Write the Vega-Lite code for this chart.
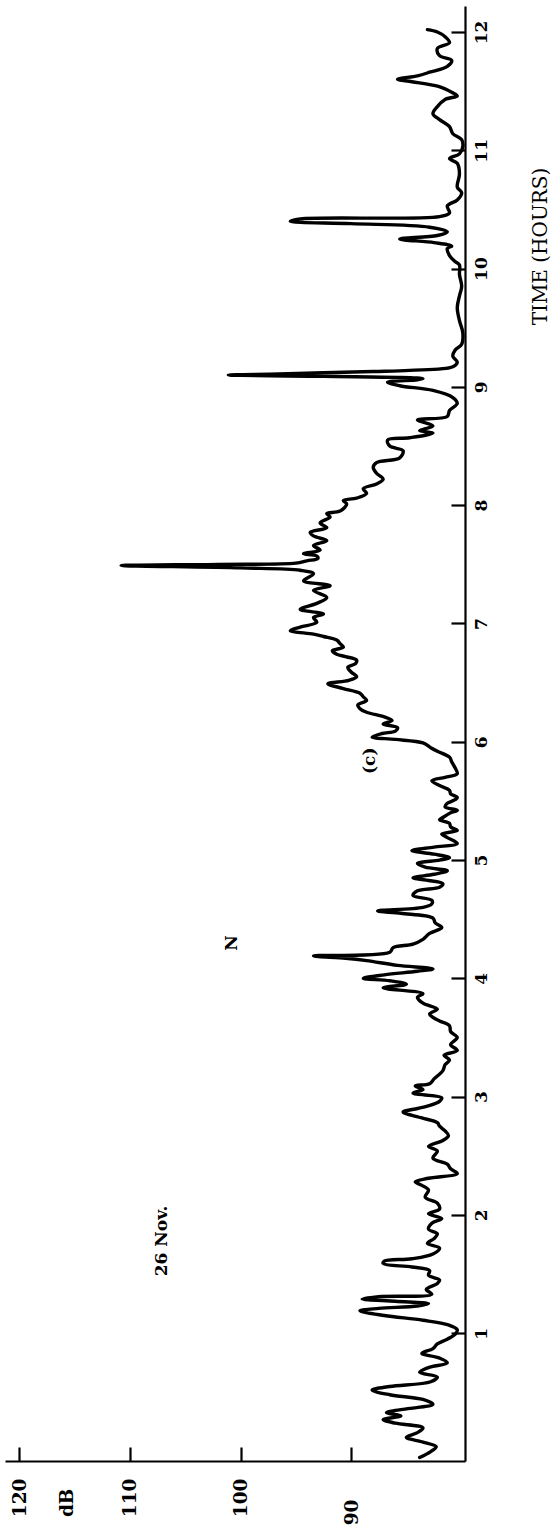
{
  "$schema": "https://vega.github.io/schema/vega-lite/v6.json",
  "width": 460,
  "height": 1455,
  "autosize": "none",
  "padding": {"left": 5, "top": 6, "right": 88, "bottom": 66},
  "background": "white",
  "config": {"view": {"stroke": null}},
  "datasets": {
    "trace": [
      {"t": -0.05, "db": 83.8}, {"t": 0.0, "db": 82.8}, {"t": 0.04, "db": 82.3}, {"t": 0.08, "db": 83.5},
      {"t": 0.12, "db": 85.0}, {"t": 0.16, "db": 84.0}, {"t": 0.2, "db": 83.5}, {"t": 0.24, "db": 86.0},
      {"t": 0.27, "db": 87.1}, {"t": 0.3, "db": 85.5}, {"t": 0.33, "db": 86.8}, {"t": 0.36, "db": 85.0},
      {"t": 0.4, "db": 82.6}, {"t": 0.44, "db": 83.5}, {"t": 0.48, "db": 86.5}, {"t": 0.52, "db": 88.1},
      {"t": 0.55, "db": 86.5}, {"t": 0.59, "db": 82.8}, {"t": 0.63, "db": 82.2}, {"t": 0.67, "db": 83.8},
      {"t": 0.71, "db": 83.0}, {"t": 0.75, "db": 81.3}, {"t": 0.79, "db": 82.0}, {"t": 0.83, "db": 83.6},
      {"t": 0.87, "db": 82.6}, {"t": 0.91, "db": 82.2}, {"t": 0.95, "db": 81.3}, {"t": 0.99, "db": 80.6},
      {"t": 1.03, "db": 80.4}, {"t": 1.07, "db": 81.2}, {"t": 1.11, "db": 83.5}, {"t": 1.15, "db": 87.0},
      {"t": 1.19, "db": 89.2}, {"t": 1.21, "db": 87.5}, {"t": 1.23, "db": 84.0}, {"t": 1.25, "db": 83.0},
      {"t": 1.27, "db": 86.0}, {"t": 1.29, "db": 89.0}, {"t": 1.31, "db": 87.5}, {"t": 1.33, "db": 82.7},
      {"t": 1.37, "db": 83.2}, {"t": 1.42, "db": 82.2}, {"t": 1.45, "db": 82.0}, {"t": 1.49, "db": 83.0},
      {"t": 1.53, "db": 82.9}, {"t": 1.56, "db": 84.5}, {"t": 1.59, "db": 87.1}, {"t": 1.61, "db": 87.0},
      {"t": 1.63, "db": 84.5}, {"t": 1.67, "db": 82.6}, {"t": 1.72, "db": 82.0}, {"t": 1.76, "db": 83.1},
      {"t": 1.8, "db": 82.5}, {"t": 1.84, "db": 82.2}, {"t": 1.88, "db": 83.0}, {"t": 1.93, "db": 82.7},
      {"t": 1.97, "db": 81.8}, {"t": 2.01, "db": 83.0}, {"t": 2.05, "db": 82.0}, {"t": 2.1, "db": 82.2},
      {"t": 2.15, "db": 83.3}, {"t": 2.21, "db": 83.0}, {"t": 2.25, "db": 83.6}, {"t": 2.28, "db": 84.2},
      {"t": 2.31, "db": 83.0}, {"t": 2.35, "db": 80.4}, {"t": 2.39, "db": 81.0}, {"t": 2.43, "db": 81.3},
      {"t": 2.48, "db": 82.6}, {"t": 2.54, "db": 82.2}, {"t": 2.58, "db": 83.0}, {"t": 2.63, "db": 81.7},
      {"t": 2.67, "db": 81.2}, {"t": 2.71, "db": 81.5}, {"t": 2.75, "db": 82.0}, {"t": 2.78, "db": 82.2},
      {"t": 2.82, "db": 83.6}, {"t": 2.87, "db": 85.3}, {"t": 2.9, "db": 84.0}, {"t": 2.92, "db": 83.1},
      {"t": 2.96, "db": 82.0}, {"t": 2.99, "db": 81.8}, {"t": 3.03, "db": 84.4}, {"t": 3.06, "db": 83.5},
      {"t": 3.09, "db": 84.2}, {"t": 3.11, "db": 82.9}, {"t": 3.15, "db": 82.5}, {"t": 3.22, "db": 81.7},
      {"t": 3.27, "db": 81.5}, {"t": 3.31, "db": 81.1}, {"t": 3.35, "db": 81.6}, {"t": 3.39, "db": 80.4},
      {"t": 3.44, "db": 81.0}, {"t": 3.5, "db": 80.4}, {"t": 3.55, "db": 81.0}, {"t": 3.6, "db": 81.1},
      {"t": 3.64, "db": 82.0}, {"t": 3.67, "db": 82.6}, {"t": 3.7, "db": 82.9}, {"t": 3.74, "db": 82.2},
      {"t": 3.79, "db": 83.5}, {"t": 3.84, "db": 84.0}, {"t": 3.87, "db": 83.5}, {"t": 3.92, "db": 87.1},
      {"t": 3.95, "db": 85.0}, {"t": 3.98, "db": 86.5}, {"t": 4.0, "db": 88.9}, {"t": 4.03, "db": 87.0},
      {"t": 4.06, "db": 84.0}, {"t": 4.08, "db": 82.6}, {"t": 4.11, "db": 85.8}, {"t": 4.15, "db": 88.6},
      {"t": 4.17, "db": 90.5}, {"t": 4.19, "db": 93.4}, {"t": 4.22, "db": 86.5}, {"t": 4.26, "db": 86.2},
      {"t": 4.29, "db": 84.4}, {"t": 4.33, "db": 83.5}, {"t": 4.38, "db": 82.9}, {"t": 4.43, "db": 81.8},
      {"t": 4.47, "db": 82.4}, {"t": 4.51, "db": 82.6}, {"t": 4.55, "db": 85.5}, {"t": 4.57, "db": 87.6},
      {"t": 4.6, "db": 83.5}, {"t": 4.63, "db": 82.7}, {"t": 4.66, "db": 82.7}, {"t": 4.7, "db": 84.4},
      {"t": 4.74, "db": 84.0}, {"t": 4.77, "db": 82.0}, {"t": 4.8, "db": 81.7}, {"t": 4.83, "db": 83.2},
      {"t": 4.85, "db": 84.4}, {"t": 4.88, "db": 82.5}, {"t": 4.91, "db": 81.3}, {"t": 4.94, "db": 83.3},
      {"t": 4.97, "db": 84.0}, {"t": 5.0, "db": 82.0}, {"t": 5.02, "db": 81.1}, {"t": 5.05, "db": 82.5},
      {"t": 5.08, "db": 84.5}, {"t": 5.11, "db": 82.5}, {"t": 5.14, "db": 80.4}, {"t": 5.19, "db": 81.3},
      {"t": 5.22, "db": 81.8}, {"t": 5.25, "db": 80.4}, {"t": 5.28, "db": 81.0}, {"t": 5.31, "db": 81.1},
      {"t": 5.34, "db": 82.0}, {"t": 5.36, "db": 81.7}, {"t": 5.4, "db": 81.0}, {"t": 5.42, "db": 80.4},
      {"t": 5.45, "db": 81.5}, {"t": 5.48, "db": 81.3}, {"t": 5.51, "db": 80.6}, {"t": 5.53, "db": 80.4},
      {"t": 5.56, "db": 81.0}, {"t": 5.59, "db": 81.1}, {"t": 5.63, "db": 82.0}, {"t": 5.67, "db": 82.7},
      {"t": 5.7, "db": 81.5}, {"t": 5.73, "db": 80.4}, {"t": 5.78, "db": 80.6}, {"t": 5.83, "db": 80.9},
      {"t": 5.87, "db": 81.1}, {"t": 5.92, "db": 82.2}, {"t": 5.95, "db": 82.8}, {"t": 5.99, "db": 83.5},
      {"t": 6.02, "db": 86.0}, {"t": 6.04, "db": 88.1}, {"t": 6.07, "db": 87.2}, {"t": 6.09, "db": 86.0},
      {"t": 6.12, "db": 85.8}, {"t": 6.15, "db": 87.1}, {"t": 6.18, "db": 86.3}, {"t": 6.21, "db": 87.0},
      {"t": 6.25, "db": 88.6}, {"t": 6.28, "db": 89.2}, {"t": 6.31, "db": 89.4}, {"t": 6.35, "db": 88.6},
      {"t": 6.38, "db": 88.9}, {"t": 6.41, "db": 89.2}, {"t": 6.45, "db": 90.7}, {"t": 6.49, "db": 92.1},
      {"t": 6.52, "db": 90.2}, {"t": 6.55, "db": 89.5}, {"t": 6.59, "db": 90.0}, {"t": 6.63, "db": 90.3},
      {"t": 6.66, "db": 89.6}, {"t": 6.69, "db": 89.5}, {"t": 6.72, "db": 90.5}, {"t": 6.74, "db": 91.3},
      {"t": 6.77, "db": 91.7}, {"t": 6.8, "db": 90.7}, {"t": 6.83, "db": 91.0}, {"t": 6.86, "db": 91.3},
      {"t": 6.89, "db": 92.5}, {"t": 6.91, "db": 93.4}, {"t": 6.94, "db": 95.5}, {"t": 6.97, "db": 94.6},
      {"t": 7.01, "db": 93.1}, {"t": 7.05, "db": 93.4}, {"t": 7.08, "db": 92.5}, {"t": 7.12, "db": 94.6},
      {"t": 7.17, "db": 93.1}, {"t": 7.22, "db": 92.2}, {"t": 7.28, "db": 93.4}, {"t": 7.32, "db": 91.9},
      {"t": 7.36, "db": 94.3}, {"t": 7.42, "db": 93.4}, {"t": 7.45, "db": 94.6}, {"t": 7.47, "db": 100.0},
      {"t": 7.49, "db": 110.8}, {"t": 7.5, "db": 102.0}, {"t": 7.51, "db": 95.0}, {"t": 7.53, "db": 94.0},
      {"t": 7.55, "db": 93.0}, {"t": 7.57, "db": 93.1}, {"t": 7.59, "db": 94.3}, {"t": 7.62, "db": 92.8},
      {"t": 7.66, "db": 93.4}, {"t": 7.7, "db": 92.2}, {"t": 7.74, "db": 93.4}, {"t": 7.77, "db": 93.7},
      {"t": 7.81, "db": 92.2}, {"t": 7.85, "db": 92.8}, {"t": 7.9, "db": 91.9}, {"t": 7.93, "db": 92.2},
      {"t": 7.95, "db": 91.0}, {"t": 8.01, "db": 90.4}, {"t": 8.04, "db": 90.7}, {"t": 8.06, "db": 89.5},
      {"t": 8.1, "db": 88.6}, {"t": 8.14, "db": 88.9}, {"t": 8.18, "db": 87.7}, {"t": 8.22, "db": 87.1},
      {"t": 8.27, "db": 87.7}, {"t": 8.32, "db": 88.0}, {"t": 8.36, "db": 87.7}, {"t": 8.4, "db": 85.6},
      {"t": 8.46, "db": 85.3}, {"t": 8.5, "db": 86.5}, {"t": 8.55, "db": 86.7}, {"t": 8.57, "db": 84.7},
      {"t": 8.61, "db": 82.6}, {"t": 8.63, "db": 83.8}, {"t": 8.67, "db": 82.6}, {"t": 8.72, "db": 84.0},
      {"t": 8.75, "db": 81.3}, {"t": 8.8, "db": 81.1}, {"t": 8.86, "db": 80.4}, {"t": 8.91, "db": 80.8},
      {"t": 8.97, "db": 82.6}, {"t": 9.01, "db": 85.6}, {"t": 9.04, "db": 86.7}, {"t": 9.06, "db": 84.0},
      {"t": 9.07, "db": 83.5}, {"t": 9.09, "db": 92.5}, {"t": 9.1, "db": 101.1}, {"t": 9.11, "db": 96.5},
      {"t": 9.13, "db": 88.0}, {"t": 9.14, "db": 84.7}, {"t": 9.17, "db": 80.8}, {"t": 9.21, "db": 80.4},
      {"t": 9.26, "db": 80.8}, {"t": 9.31, "db": 80.6}, {"t": 9.36, "db": 80.0}, {"t": 9.46, "db": 79.9},
      {"t": 9.56, "db": 80.2}, {"t": 9.67, "db": 80.4}, {"t": 9.77, "db": 80.2}, {"t": 9.85, "db": 80.0},
      {"t": 9.95, "db": 80.2}, {"t": 10.03, "db": 80.2}, {"t": 10.06, "db": 80.6}, {"t": 10.11, "db": 81.1},
      {"t": 10.17, "db": 81.3}, {"t": 10.19, "db": 80.9}, {"t": 10.22, "db": 82.5}, {"t": 10.25, "db": 85.6},
      {"t": 10.28, "db": 82.2}, {"t": 10.31, "db": 81.3}, {"t": 10.35, "db": 82.9}, {"t": 10.38, "db": 90.0},
      {"t": 10.4, "db": 95.5}, {"t": 10.42, "db": 94.6}, {"t": 10.44, "db": 82.0}, {"t": 10.47, "db": 81.1},
      {"t": 10.53, "db": 81.3}, {"t": 10.58, "db": 80.4}, {"t": 10.64, "db": 80.0}, {"t": 10.69, "db": 80.4},
      {"t": 10.8, "db": 80.2}, {"t": 10.89, "db": 80.4}, {"t": 10.93, "db": 81.1}, {"t": 10.97, "db": 80.2},
      {"t": 11.03, "db": 79.9}, {"t": 11.09, "db": 80.0}, {"t": 11.14, "db": 80.8}, {"t": 11.2, "db": 81.1},
      {"t": 11.26, "db": 82.0}, {"t": 11.31, "db": 82.6}, {"t": 11.37, "db": 82.2}, {"t": 11.43, "db": 81.5},
      {"t": 11.46, "db": 80.4}, {"t": 11.49, "db": 80.9}, {"t": 11.54, "db": 82.1}, {"t": 11.58, "db": 84.5},
      {"t": 11.6, "db": 85.8}, {"t": 11.63, "db": 84.0}, {"t": 11.66, "db": 82.9}, {"t": 11.71, "db": 81.3},
      {"t": 11.76, "db": 80.9}, {"t": 11.8, "db": 82.0}, {"t": 11.86, "db": 82.2}, {"t": 11.91, "db": 81.1},
      {"t": 11.96, "db": 81.5}, {"t": 12.0, "db": 82.2}, {"t": 12.02, "db": 83.1}
    ],
    "notes": [
      {"label": "26 Nov.", "t": 1.78, "db": 107.1},
      {"label": "N", "t": 4.3, "db": 100.8},
      {"label": "(c)", "t": 5.84, "db": 88.3}
    ]
  },
  "layer": [
    {
      "data": {"name": "trace"},
      "mark": {"type": "line", "color": "black", "strokeWidth": 3.4, "interpolate": "catmull-rom", "strokeJoin": "round", "strokeCap": "round"},
      "encoding": {
        "x": {
          "field": "db", "type": "quantitative",
          "scale": {"domain": [79.7, 121.3], "reverse": true, "nice": false, "zero": false},
          "axis": {
            "orient": "bottom", "values": [90, 100, 110, 120], "grid": false, "format": "d",
            "domainColor": "black", "domainWidth": 2.2, "tickColor": "black", "tickWidth": 2.2, "tickSize": -14,
            "labelAngle": -90, "labelAlign": "right", "labelBaseline": "middle",
            "labelPadding": {"condition": {"test": "datum.value == 90", "value": 52}, "value": 31},
            "labelFont": "DejaVu Serif", "labelFontWeight": "bold", "labelFontSize": 18.5, "labelColor": "black",
            "title": "dB", "titleFont": "DejaVu Serif", "titleFontWeight": "bold", "titleFontSize": 18.5, "titleColor": "black",
            "titleAngle": -90, "titleAlign": "right", "titleBaseline": "middle", "titleX": 61, "titleY": 27
          }
        },
        "y": {
          "field": "t", "type": "quantitative",
          "scale": {"domain": [-0.08, 12.22], "nice": false, "zero": false},
          "axis": {
            "orient": "right", "values": [1, 2, 3, 4, 5, 6, 7, 8, 9, 10, 11, 12], "grid": false, "format": "d",
            "domainColor": "black", "domainWidth": 2.2, "tickColor": "black", "tickWidth": 2.2, "tickSize": -14,
            "labelAngle": -90, "labelAlign": "center", "labelBaseline": "top", "labelPadding": 22,
            "labelFont": "DejaVu Serif", "labelFontWeight": "bold", "labelFontSize": 17, "labelColor": "black",
            "title": "TIME (HOURS)", "titleFont": "DejaVu Serif", "titleFontWeight": "normal", "titleFontSize": 20, "titleColor": "black",
            "titleAngle": -90, "titleAlign": "center", "titleBaseline": "middle", "titleX": 75, "titleY": 240
          }
        },
        "order": {"field": "t", "type": "quantitative"}
      }
    },
    {
      "data": {"name": "notes"},
      "mark": {"type": "text", "angle": 270, "font": "DejaVu Serif", "fontWeight": "bold", "fontSize": 17, "color": "black", "align": "center", "baseline": "middle"},
      "encoding": {
        "x": {"field": "db", "type": "quantitative"},
        "y": {"field": "t", "type": "quantitative"},
        "text": {"field": "label", "type": "nominal"}
      }
    }
  ]
}
